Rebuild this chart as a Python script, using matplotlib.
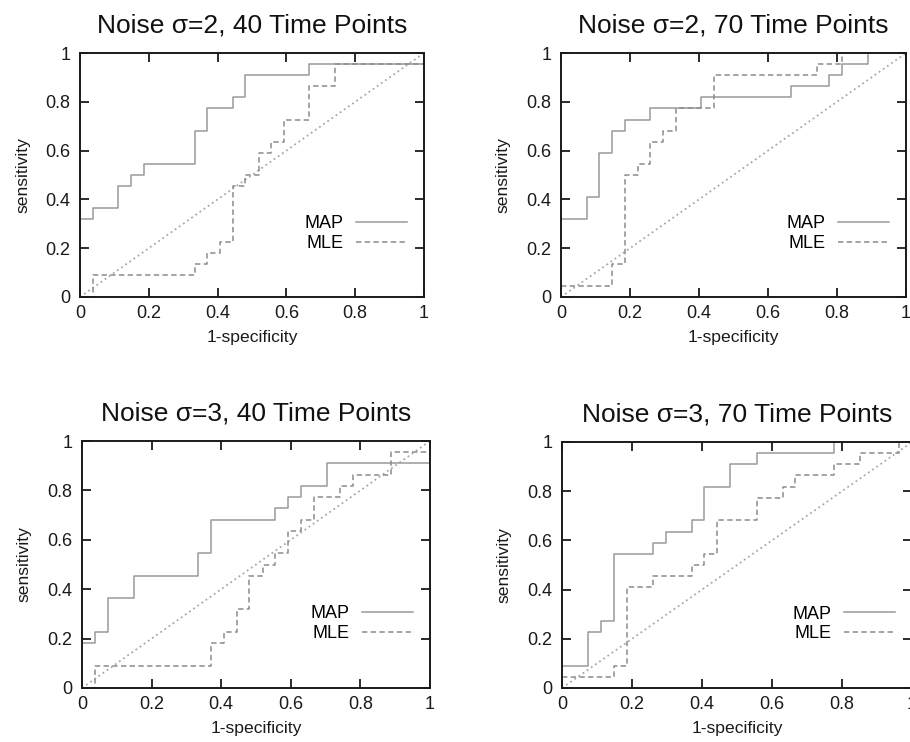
import matplotlib
matplotlib.use("Agg")
import matplotlib.pyplot as plt

plt.rcParams['font.family'] = ['Liberation Sans', 'DejaVu Sans']

titles = ["Noise \u03c3=2, 40 Time Points", "Noise \u03c3=2, 70 Time Points",
          "Noise \u03c3=3, 40 Time Points", "Noise \u03c3=3, 70 Time Points"]

tick_vals = [0, 0.2, 0.4, 0.6, 0.8, 1]
tick_labels = ["0", "0.2", "0.4", "0.6", "0.8", "1"]

# Panel 1: sigma=2, 40 time points
map1_fpr = [0, 0.037, 0.111, 0.148, 0.185, 0.333, 0.370, 0.444, 0.481, 0.667, 1.0]
map1_tpr = [0.318, 0.364, 0.455, 0.500, 0.545, 0.682, 0.773, 0.818, 0.909, 0.955, 0.955]
mle1_fpr = [0, 0.037, 0.333, 0.370, 0.407, 0.444, 0.481, 0.519, 0.556, 0.593, 0.667, 0.741, 1.0]
mle1_tpr = [0, 0.091, 0.136, 0.182, 0.227, 0.455, 0.500, 0.591, 0.636, 0.727, 0.864, 0.955, 0.955]

# Panel 2: sigma=2, 70 time points
map2_fpr = [0, 0.074, 0.111, 0.148, 0.185, 0.259, 0.407, 0.667, 0.778, 0.815, 0.889, 1.0]
map2_tpr = [0.318, 0.409, 0.591, 0.682, 0.727, 0.773, 0.818, 0.864, 0.909, 0.955, 1.0, 1.0]
mle2_fpr = [0, 0.148, 0.185, 0.222, 0.259, 0.296, 0.333, 0.444, 0.741, 0.815, 1.0]
mle2_tpr = [0.045, 0.136, 0.500, 0.545, 0.636, 0.682, 0.773, 0.909, 0.955, 1.0, 1.0]

# Panel 3: sigma=3, 40 time points
map3_fpr = [0, 0.037, 0.074, 0.148, 0.333, 0.370, 0.556, 0.593, 0.630, 0.704, 1.0]
map3_tpr = [0.182, 0.227, 0.364, 0.455, 0.545, 0.682, 0.727, 0.773, 0.818, 0.909, 0.909]
mle3_fpr = [0, 0.037, 0.370, 0.407, 0.444, 0.481, 0.519, 0.556, 0.593, 0.630, 0.667, 0.741, 0.778, 0.889, 1.0]
mle3_tpr = [0, 0.091, 0.182, 0.227, 0.318, 0.455, 0.500, 0.545, 0.636, 0.682, 0.773, 0.818, 0.864, 0.955, 0.955]

# Panel 4: sigma=3, 70 time points
map4_fpr = [0, 0.074, 0.111, 0.148, 0.259, 0.296, 0.370, 0.407, 0.481, 0.556, 0.778, 1.0]
map4_tpr = [0.091, 0.227, 0.273, 0.545, 0.591, 0.636, 0.682, 0.818, 0.909, 0.955, 1.0, 1.0]
mle4_fpr = [0, 0.148, 0.185, 0.259, 0.370, 0.407, 0.444, 0.556, 0.630, 0.667, 0.778, 0.852, 0.963, 1.0]
mle4_tpr = [0.045, 0.091, 0.409, 0.455, 0.500, 0.545, 0.682, 0.773, 0.818, 0.864, 0.909, 0.955, 1.0, 1.0]

diag = [0, 1]

panels = [
    (map1_fpr, map1_tpr, mle1_fpr, mle1_tpr),
    (map2_fpr, map2_tpr, mle2_fpr, mle2_tpr),
    (map3_fpr, map3_tpr, mle3_fpr, mle3_tpr),
    (map4_fpr, map4_tpr, mle4_fpr, mle4_tpr),
]

W, H = 910, 742
# axes boxes in pixels: left, top, right, bottom
boxes = [(80, 53, 424, 297), (561, 53, 906, 297),
         (82, 441, 430, 688), (562, 442, 912, 688)]

fig = plt.figure(figsize=(W / 100, H / 100), dpi=100)
fig.patch.set_facecolor('white')

for i, (box, data) in enumerate(zip(boxes, panels)):
    l, t, r, b = box
    ax = fig.add_axes([l / W, 1 - b / H, (r - l) / W, (b - t) / H])
    mf, mt, lf, lt = data
    ax.plot(diag, diag, linestyle=(0, (1, 1.8)), color='#a8a8a8', linewidth=1.3)
    ax.step(mf, mt, where='post', color='#9a9a9a', linewidth=1.1, label='MAP')
    ax.step(lf, lt, where='post', color='#8c8c8c', linewidth=1.1,
            linestyle=(0, (3.5, 2.2)), label='MLE')
    ax.set_xlim(0, 1)
    ax.set_ylim(0, 1)
    ax.set_xticks(tick_vals)
    ax.set_xticklabels(tick_labels)
    ax.set_yticks(tick_vals)
    ax.set_yticklabels(tick_labels)
    ax.tick_params(direction='in', length=6.5, width=1.3, top=True, right=True,
                   labelsize=13, colors='#1a1a1a')
    ax.tick_params(axis='y', pad=7)
    ax.tick_params(axis='x', pad=6)
    for sp in ax.spines.values():
        sp.set_linewidth(1.4)
        sp.set_color('#1a1a1a')
    ax.set_title(titles[i], fontsize=19, pad=15, color='#111111')
    ax.set_xlabel('1-specificity', fontsize=12.6, color='#1a1a1a')
    ax.set_ylabel('sensitivity', fontsize=12.6, color='#1a1a1a')
    ax.yaxis.set_label_coords(-0.145, 0.5)
    ax.xaxis.set_label_coords(0.5, -0.135)
    handles, labels = ax.get_legend_handles_labels()
    ax.legend(handles[0:2], labels[0:2], loc='center right', bbox_to_anchor=(0.95, 0.26),
              frameon=False, markerfirst=False, fontsize=13, handlelength=2.8,
              handletextpad=0.7, labelspacing=0.15, borderaxespad=0, borderpad=0)

fig.savefig('out.png', dpi=100)
